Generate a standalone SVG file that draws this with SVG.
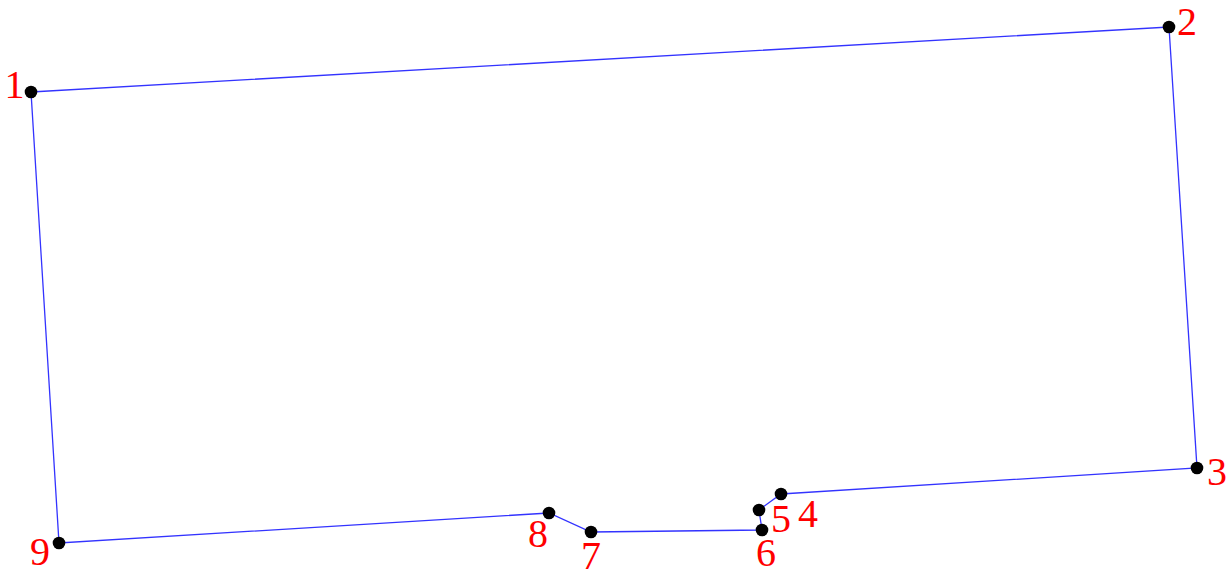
<svg xmlns="http://www.w3.org/2000/svg" width="1231" height="572" viewBox="0 0 1231 572">
<style>
.edge{fill:none;stroke:#3333ff;stroke-width:1.3}
.pt{fill:#000}
.lbl{fill:#ff0000;font-family:"Liberation Serif",serif;font-size:40px;text-anchor:middle}
</style>
<rect width="1231" height="572" fill="#fff"/>
<g id="connectors">
<polygon class="edge" points="31,92 1169,27 1197,468 781,494 759,510 762,530 591,532 549,513 59,543"/>
</g>
<g id="p1"><circle class="pt" cx="31" cy="92" r="6.3"/><text class="lbl" x="14.5" y="98">1</text></g>
<g id="p2"><circle class="pt" cx="1169" cy="27" r="6.3"/><text class="lbl" x="1187" y="35">2</text></g>
<g id="p3"><circle class="pt" cx="1197" cy="468" r="6.3"/><text class="lbl" x="1217" y="485">3</text></g>
<g id="p4"><circle class="pt" cx="781" cy="494" r="6.3"/><text class="lbl" x="808" y="527">4</text></g>
<g id="p5"><circle class="pt" cx="759" cy="510" r="6.3"/><text class="lbl" x="781" y="532">5</text></g>
<g id="p6"><circle class="pt" cx="762" cy="530" r="6.3"/><text class="lbl" x="766" y="566">6</text></g>
<g id="p7"><circle class="pt" cx="591" cy="532" r="6.3"/><text class="lbl" x="591" y="569">7</text></g>
<g id="p8"><circle class="pt" cx="549" cy="513" r="6.3"/><text class="lbl" x="538" y="547">8</text></g>
<g id="p9"><circle class="pt" cx="59" cy="543" r="6.3"/><text class="lbl" x="40" y="565">9</text></g>
</svg>
